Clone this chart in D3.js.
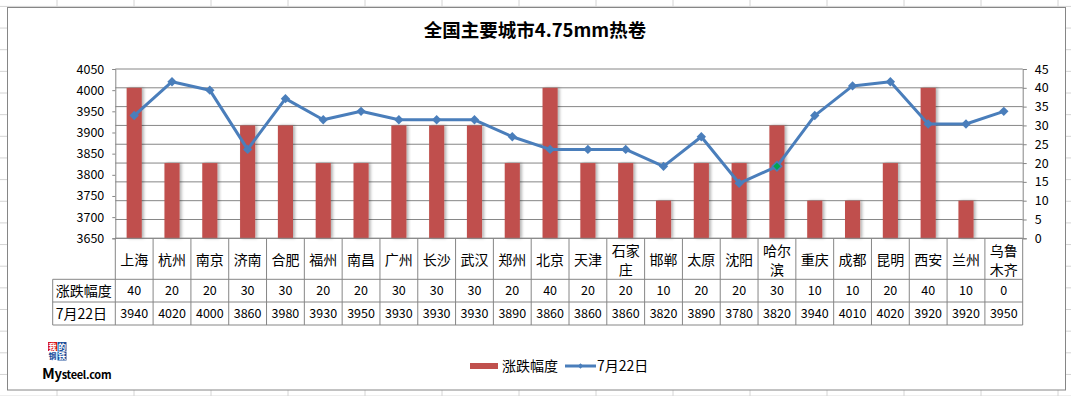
<!DOCTYPE html>
<html>
<head>
<meta charset="utf-8">
<script src="https://cdn.jsdelivr.net/npm/d3@7"></script>
<style>
body { margin: 0; background: #fff; }
text { font-family: "Noto Sans CJK SC", "Liberation Sans", sans-serif; fill: #000; }
</style>
</head>
<body>
<div id="chart"></div>
<script>
// data
var cities = ["上海","杭州","南京","济南","合肥","福州","南昌","广州","长沙","武汉","郑州","北京",
    "天津","石家庄","邯郸","太原","沈阳","哈尔滨","重庆","成都","昆明","西安","兰州","乌鲁木齐"];
var change = [40,20,20,30,30,20,20,30,30,30,20,40,20,20,10,20,20,30,10,10,20,40,10,0];
var price = [3940,4020,4000,3860,3980,3930,3950,3930,3930,3930,3890,3860,3860,3860,3820,3890,3780,3820,3940,4010,4020,3920,3920,3950];
var leftTicks = [3650,3700,3750,3800,3850,3900,3950,4000,4050];
var rightTicks = [0,5,10,15,20,25,30,35,40,45];
var seriesNames = ["涨跌幅度","7月22日"];
var chartTitle = "全国主要城市4.75mm热卷";

var svgWidth = 1071;
var svgHeight = 396;

var plot = { left: 115.3, right: 1022.7, top: 69, bottom: 238.3 };
var rowH = [238.3, 279.3, 302, 325];
var labelColLeft = 52.7;

var svg = d3.select("#chart")
    .append("svg")
    .attr("width", svgWidth)
    .attr("height", svgHeight);

var defs = svg.append("defs");
defs.append("filter")
    .attr("id", "shadow")
    .attr("x", "-30%").attr("width", "160%")
    .append("feDropShadow")
    .attr("dx", 2).attr("dy", 0)
    .attr("stdDeviation", 1.5)
    .attr("flood-color", "#000")
    .attr("flood-opacity", 0.3);

// spreadsheet grid behind the chart
var sheet = svg.append("g");
d3.range(0, 15).forEach(function(i) {
    var gx = 57 + i * 77;
    sheet.append("line")
        .attr("x1", gx).attr("x2", gx)
        .attr("y1", 0).attr("y2", svgHeight)
        .attr("stroke", "#d4d4d4");
});
d3.range(0, 19).forEach(function(i) {
    var gy = 6.4 + i * 21.65;
    sheet.append("line")
        .attr("x1", 0).attr("x2", svgWidth)
        .attr("y1", gy).attr("y2", gy)
        .attr("stroke", "#d4d4d4");
});

// chart area
svg.append("rect")
    .attr("x", 7.5).attr("y", 7.5)
    .attr("width", 1058).attr("height", 382.5)
    .attr("fill", "#fff")
    .attr("stroke", "#868686");

svg.append("text")
    .attr("x", 535)
    .attr("y", 37)
    .attr("text-anchor", "middle")
    .attr("font-size", "18.5px")
    .attr("font-weight", "bold")
    .text(chartTitle);

// scales
var xScale = d3.scaleBand()
    .domain(cities)
    .range([plot.left, plot.right])
    .padding(0);

var yLeft = d3.scaleLinear()
    .domain([3650, 4050])
    .range([plot.bottom, plot.top]);

var yRight = d3.scaleLinear()
    .domain([0, 45])
    .range([plot.bottom, plot.top]);

var bw = xScale.bandwidth();

// gridlines follow right axis
svg.append("g")
    .selectAll("line")
    .data(rightTicks)
    .enter()
    .append("line")
    .attr("x1", plot.left).attr("x2", plot.right)
    .attr("y1", d => yRight(d)).attr("y2", d => yRight(d))
    .attr("stroke", "#868686")
    .attr("stroke-width", 1);

// axes
var leftAxis = d3.axisLeft(yLeft).tickValues(leftTicks).tickFormat(d3.format("d")).tickSize(3).tickPadding(8);
var rightAxis = d3.axisRight(yRight).tickValues(rightTicks).tickFormat(d3.format("d")).tickSize(4).tickPadding(8);

var gl = svg.append("g")
    .attr("transform", `translate(${plot.left},0)`)
    .call(leftAxis);
var gr = svg.append("g")
    .attr("transform", `translate(${plot.right},0)`)
    .call(rightAxis);
[gl, gr].forEach(function(g) {
    g.select(".domain").attr("stroke", "#868686");
    g.selectAll(".tick line").attr("stroke", "#868686");
    g.selectAll(".tick text")
        .attr("font-size", "12.5px")
        .attr("font-family", "Noto Sans CJK SC, sans-serif")
        .attr("fill", "#000");
});

// bars
svg.append("g")
    .selectAll("rect")
    .data(cities)
    .enter()
    .append("rect")
    .attr("x", d => xScale(d) + bw * 0.3)
    .attr("width", bw * 0.4)
    .attr("y", (d, i) => yRight(change[i]))
    .attr("height", (d, i) => plot.bottom - yRight(change[i]))
    .attr("fill", "#c0504d")
    .attr("filter", "url(#shadow)");

// line
var line = d3.line()
    .x(d => xScale(d.city) + bw / 2)
    .y(d => yLeft(d.v));

var pts = cities.map((c, i) => ({ city: c, v: price[i] }));

svg.append("path")
    .datum(pts)
    .attr("d", line)
    .attr("fill", "none")
    .attr("stroke", "#4a7ebb")
    .attr("stroke-width", 3)
    .attr("stroke-linejoin", "round");

svg.append("g")
    .selectAll("path")
    .data(pts)
    .enter()
    .append("path")
    .attr("d", d3.symbol().type(d3.symbolSquare).size(44))
    .attr("transform", d => `translate(${xScale(d.city) + bw / 2},${yLeft(d.v)}) rotate(45)`)
    .attr("fill", d => d.city == "哈尔滨" ? "#00a651" : "#4a7ebb")
    .attr("stroke", "#4a7ebb")
    .attr("stroke-width", d => d.city == "哈尔滨" ? 1.5 : 0);

// data table
var table = svg.append("g").attr("stroke", "#868686").attr("stroke-width", 1);
table.append("line")
    .attr("x1", plot.left).attr("x2", plot.right)
    .attr("y1", plot.bottom).attr("y2", plot.bottom);
[rowH[1], rowH[2], rowH[3]].forEach(function(yy) {
    table.append("line")
        .attr("x1", labelColLeft).attr("x2", plot.right)
        .attr("y1", yy).attr("y2", yy);
});
table.append("line")
    .attr("x1", labelColLeft).attr("x2", labelColLeft)
    .attr("y1", rowH[1]).attr("y2", rowH[3]);
table.append("line")
    .attr("x1", plot.right).attr("x2", plot.right)
    .attr("y1", plot.bottom).attr("y2", rowH[3]);
cities.forEach(function(c) {
    table.append("line")
        .attr("x1", xScale(c)).attr("x2", xScale(c))
        .attr("y1", plot.bottom).attr("y2", rowH[3]);
});

// category labels, long names wrap after two characters
var cat = svg.append("g");
cities.forEach(function(c) {
    var cx = xScale(c) + bw / 2;
    if (c.length <= 2) {
        cat.append("text")
            .attr("x", cx).attr("y", 265)
            .attr("text-anchor", "middle")
            .attr("font-size", "14px")
            .text(c);
    } else {
        cat.append("text")
            .attr("x", cx).attr("y", 256)
            .attr("text-anchor", "middle")
            .attr("font-size", "14px")
            .text(c.slice(0, 2));
        cat.append("text")
            .attr("x", cx).attr("y", 275)
            .attr("text-anchor", "middle")
            .attr("font-size", "14px")
            .text(c.slice(2));
    }
});

var rows = [change, price];
rows.forEach(function(vals, r) {
    var ty = (rowH[r + 1] + rowH[r + 2]) / 2 + 4.5;
    svg.append("text")
        .attr("x", labelColLeft + 3).attr("y", ty + 0.5)
        .attr("font-size", "14px")
        .text(seriesNames[r]);
    svg.append("g")
        .selectAll("text")
        .data(cities)
        .enter()
        .append("text")
        .attr("x", d => xScale(d) + bw / 2)
        .attr("y", ty)
        .attr("text-anchor", "middle")
        .attr("font-size", "12.5px")
        .text((d, i) => vals[i]);
});

// legend
var legend = svg.append("g");
legend.append("rect")
    .attr("x", 470).attr("y", 363)
    .attr("width", 28).attr("height", 6)
    .attr("fill", "#c0504d");
legend.append("text")
    .attr("x", 502).attr("y", 371)
    .attr("font-size", "14px")
    .text(seriesNames[0]);
legend.append("line")
    .attr("x1", 565).attr("x2", 596)
    .attr("y1", 366).attr("y2", 366)
    .attr("stroke", "#4a7ebb")
    .attr("stroke-width", 3);
legend.append("path")
    .attr("d", d3.symbol().type(d3.symbolSquare).size(14))
    .attr("transform", "translate(580.5,366) rotate(45)")
    .attr("fill", "#4a7ebb");
legend.append("text")
    .attr("x", 597).attr("y", 371)
    .attr("font-size", "14px")
    .text(seriesNames[1]);

// mysteel logo
var logo = svg.append("g");
var boxes = [
    { t: "我", x: 48, y: 342, bg: "#d7141a", fg: "#fff" },
    { t: "的", x: 57.5, y: 342, bg: "#1d4f9c", fg: "#fff" },
    { t: "钢", x: 48, y: 351.5, bg: "#ffffff", fg: "#1d4f9c" },
    { t: "铁", x: 57.5, y: 351.5, bg: "#1d4f9c", fg: "#fff" }
];
boxes.forEach(function(b) {
    logo.append("rect")
        .attr("x", b.x).attr("y", b.y)
        .attr("width", 9).attr("height", 9)
        .attr("fill", b.bg);
    logo.append("text")
        .attr("x", b.x + 4.5).attr("y", b.y + 7.5)
        .attr("text-anchor", "middle")
        .attr("font-size", "8px")
        .attr("font-weight", "bold")
        .style("fill", b.fg)
        .text(b.t);
});
logo.append("text")
    .attr("x", 42).attr("y", 379)
    .attr("font-family", "Liberation Sans, Arial, sans-serif")
    .attr("font-weight", "bold")
    .attr("font-size", "11px")
    .attr("letter-spacing", "-0.3")
    .html('<tspan font-size="15px">M</tspan><tspan font-size="13px">y</tspan>steel.com');
</script>
</body>
</html>
